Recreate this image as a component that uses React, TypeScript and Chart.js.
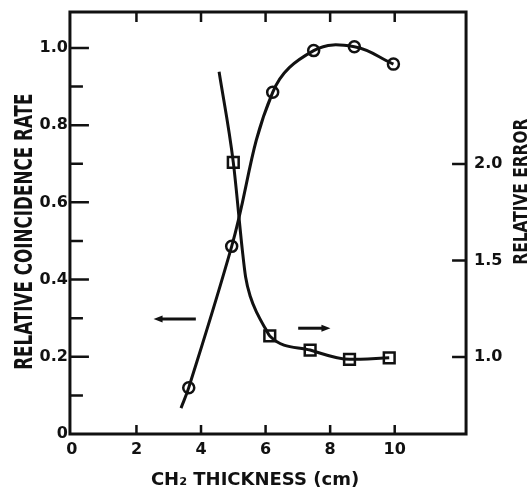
import React, { useEffect, useRef } from 'react';
import { Chart, registerables } from 'chart.js';

Chart.register(...registerables);

// Measured points: relative coincidence rate (left axis, circles)
const thicknessRate = [3.62, 4.95, 6.22, 7.49, 8.75, 9.96];
const coincidenceRate = [0.12, 0.486, 0.885, 0.993, 1.003, 0.958];

// Measured points: relative error (right axis, squares)
const thicknessError = [5.0, 6.13, 7.38, 8.6, 9.83];
const relativeError = [2.009, 1.109, 1.036, 0.988, 0.996];

// Hand-drawn curves
const rateCurveX = [3.38, 3.62, 4.95, 6.22, 7.49, 8.75, 9.96];
const rateCurveY = [0.067, 0.12, 0.486, 0.885, 0.993, 1.003, 0.958];
const errorCurveX = [4.56, 5.0, 5.28, 5.38, 5.53, 5.74, 5.99, 6.13, 7.38, 8.6, 9.83];
const errorCurveY = [2.478, 2.009, 1.554, 1.416, 1.312, 1.226, 1.149, 1.109, 1.036, 0.988, 0.996];

// Direction arrows (x from -> to, at a height on the left axis)
const arrowFromX = [3.84, 7.01];
const arrowToX = [2.53, 8.01];
const arrowY = [0.298, 0.274];

// Tick labels / tick marks
const xTickLabels = [0, 2, 4, 6, 8, 10];
const leftTickLabels = [0, 0.2, 0.4, 0.6, 0.8, 1.0];
const leftMinorTicks = [0.1, 0.3, 0.5, 0.7, 0.9];
const rightTickLabels = [1.0, 1.5, 2.0];

const xTitle = 'CH\u2082 THICKNESS (cm)';
const leftTitle = 'RELATIVE COINCIDENCE RATE';
const rightTitle = 'RELATIVE ERROR';

const FONT = "'DejaVu Sans', sans-serif";
const INK = '#111111';

function drawText(ctx: CanvasRenderingContext2D, text: string, x: number, y: number, size: number, sx: number, rotate: boolean) {
  ctx.save();
  ctx.translate(x, y);
  if (rotate) ctx.rotate(-Math.PI / 2);
  ctx.scale(sx, 1);
  ctx.font = `bold ${size}px ${FONT}`;
  ctx.fillStyle = INK;
  ctx.textAlign = 'center';
  ctx.textBaseline = 'alphabetic';
  ctx.fillText(text, 0, 0);
  ctx.restore();
}

const notesPlugin = {
  id: 'frameAndNotes',
  afterDatasetsDraw(chart: any) {
    const { ctx, chartArea: a, scales } = chart;
    const sx = scales.x;
    const sy = scales.y;
    const sy1 = scales.y1;
    ctx.save();
    ctx.strokeStyle = INK;
    ctx.fillStyle = INK;
    ctx.lineWidth = 3;
    ctx.strokeRect(a.left, a.top, a.right - a.left, a.bottom - a.top);

    ctx.lineWidth = 2.5;
    ctx.beginPath();
    leftTickLabels.forEach((v) => {
      if (v === 0) return;
      const py = sy.getPixelForValue(v);
      ctx.moveTo(a.left, py);
      ctx.lineTo(a.left + 19, py);
    });
    leftMinorTicks.forEach((v) => {
      const py = sy.getPixelForValue(v);
      ctx.moveTo(a.left, py);
      ctx.lineTo(a.left + 13, py);
    });
    rightTickLabels.forEach((v) => {
      const py = sy1.getPixelForValue(v);
      ctx.moveTo(a.right, py);
      ctx.lineTo(a.right - 14, py);
    });
    xTickLabels.forEach((v) => {
      if (v === 0) return;
      const px = sx.getPixelForValue(v);
      ctx.moveTo(px, a.bottom);
      ctx.lineTo(px, a.bottom - 9);
      ctx.moveTo(px, a.top);
      ctx.lineTo(px, a.top + 10);
    });
    ctx.stroke();

    // arrows
    ctx.lineWidth = 3;
    arrowFromX.forEach((fx, i) => {
      const x0 = sx.getPixelForValue(fx);
      const x1 = sx.getPixelForValue(arrowToX[i]);
      const py = sy.getPixelForValue(arrowY[i]);
      const dir = Math.sign(x1 - x0);
      ctx.beginPath();
      ctx.moveTo(x0, py);
      ctx.lineTo(x1 - dir * 6, py);
      ctx.stroke();
      ctx.beginPath();
      ctx.moveTo(x1, py);
      ctx.lineTo(x1 - dir * 9, py - 3.5);
      ctx.lineTo(x1 - dir * 9, py + 3.5);
      ctx.closePath();
      ctx.fill();
    });
    ctx.restore();
  },
  afterDraw(chart: any) {
    const { ctx } = chart;
    drawText(ctx, xTitle, 255, 485, 18, 1, false);
    drawText(ctx, leftTitle, 32, 231.7, 25, 0.67, true);
    drawText(ctx, rightTitle, 527, 191.7, 19, 0.81, true);
  },
};

export default function App() {
  const ref = useRef<HTMLCanvasElement | null>(null);

  useEffect(() => {
    if (!ref.current) return;
    const tickFont = { family: FONT, size: 16, weight: 'bold' as const };
    const yTickFont = { family: FONT, size: 16, weight: 'bold' as const, lineHeight: 0.4 };
    const chart = new Chart(ref.current, {
      type: 'line',
      data: {
        datasets: [
          {
            data: rateCurveX.map((x, i) => ({ x, y: rateCurveY[i] })),
            yAxisID: 'y',
            borderColor: INK,
            borderWidth: 3,
            pointRadius: 0,
            tension: 0.4,
            fill: false,
          },
          {
            data: errorCurveX.map((x, i) => ({ x, y: errorCurveY[i] })),
            yAxisID: 'y1',
            borderColor: INK,
            borderWidth: 3,
            pointRadius: 0,
            cubicInterpolationMode: 'monotone',
            fill: false,
          },
          {
            data: thicknessRate.map((x, i) => ({ x, y: coincidenceRate[i] })),
            yAxisID: 'y',
            showLine: false,
            pointStyle: 'circle',
            pointRadius: 5.5,
            pointBorderWidth: 2.5,
            pointBorderColor: INK,
            pointBackgroundColor: '#ffffff',
          },
          {
            data: thicknessError.map((x, i) => ({ x, y: relativeError[i] })),
            yAxisID: 'y1',
            showLine: false,
            pointStyle: 'rect',
            pointRadius: 7.6,
            pointBorderWidth: 2.5,
            pointBorderColor: INK,
            pointBackgroundColor: '#ffffff',
          },
        ],
      },
      options: {
        responsive: false,
        animation: false,
        layout: { padding: { left: 37.6, right: 18.6, top: 12, bottom: 26 } },
        plugins: { legend: { display: false }, tooltip: { enabled: false } },
        scales: {
          x: {
            type: 'linear',
            min: -0.06,
            max: 12.21,
            grid: { display: false, drawTicks: false },
            border: { display: false },
            afterBuildTicks: (s: any) => { s.ticks = xTickLabels.map((v) => ({ value: v })); },
            ticks: { font: tickFont, color: INK, padding: 6.4, maxRotation: 0, callback: (v: any) => String(v) },
          },
          y: {
            type: 'linear',
            position: 'left',
            min: 0,
            max: 1.093,
            grid: { display: false, drawTicks: false },
            border: { display: false },
            afterBuildTicks: (s: any) => { s.ticks = leftTickLabels.map((v) => ({ value: v })); },
            ticks: { font: yTickFont, color: INK, padding: 2, callback: (v: any) => (v === 0 ? '0' : Number(v).toFixed(1)) },
          },
          y1: {
            type: 'linear',
            position: 'right',
            min: 0.601,
            max: 2.788,
            grid: { display: false, drawTicks: false },
            border: { display: false },
            afterBuildTicks: (s: any) => { s.ticks = rightTickLabels.map((v) => ({ value: v })); },
            ticks: { font: yTickFont, color: INK, padding: 8, callback: (v: any) => Number(v).toFixed(1) },
          },
        },
      },
      plugins: [notesPlugin],
    } as any);
    return () => chart.destroy();
  }, []);

  return (
    <div style={{ position: 'fixed', left: 0, top: 0, width: 529, height: 492, background: '#ffffff' }}>
      <canvas ref={ref} width={529} height={492} />
    </div>
  );
}
